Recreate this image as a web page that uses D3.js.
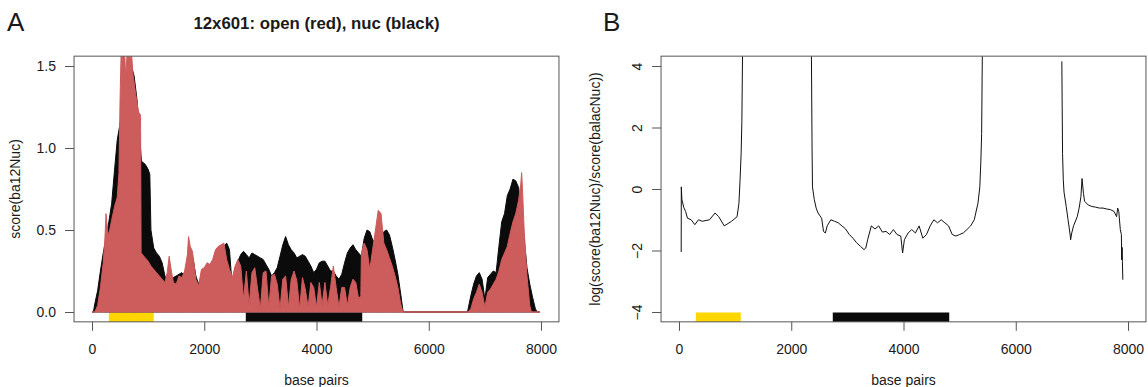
<!doctype html>
<meta charset="utf-8">
<title>12x601 scores</title>
<script src="https://cdn.jsdelivr.net/npm/d3@7"></script>
<style>
body { margin: 0; background: #fff; }
svg text { font-family: "Liberation Sans", Arial, sans-serif; fill: #1a1a1a; }
</style>
<body>
<script>
// values: [base pair, score]
var openScore = [
  [0,0],[50,0],[100,0.04],[150,0.15],[200,0.3],[230,0.45],[250,0.6],[275,0.5],[300,0.47],[350,0.56],
  [400,0.64],[450,0.7],[480,0.85],[500,1.3],[520,1.6],[580,1.6],[600,1.43],[630,1.6],[700,1.6],[730,1.45],
  [770,1.35],[800,1.28],[830,1.22],[865,1.2],[875,0.36],[950,0.33],[1000,0.31],[1050,0.28],[1100,0.26],[1150,0.24],
  [1200,0.22],[1250,0.2],[1300,0.18],[1340,0.24],[1375,0.34],[1400,0.28],[1450,0.18],[1500,0.17],[1550,0.22],[1600,0.21],
  [1650,0.25],[1700,0.35],[1720,0.46],[1750,0.4],[1790,0.37],[1850,0.2],[1900,0.16],[1950,0.26],[2000,0.27],[2050,0.3],
  [2100,0.29],[2150,0.32],[2200,0.38],[2250,0.4],[2300,0.41],[2350,0.42],[2400,0.32],[2450,0.26],[2500,0.21],[2550,0.28],
  [2600,0.32],[2650,0.28],[2700,0.08],[2750,0.25],[2800,0.04],[2850,0.24],[2900,0.27],[2950,0.14],[3000,0.02],[3050,0.24],
  [3100,0.25],[3150,0.03],[3200,0.22],[3250,0.23],[3300,0.17],[3350,0.02],[3400,0.2],[3450,0.22],[3500,0.03],[3550,0.2],
  [3600,0.25],[3650,0.19],[3700,0.02],[3750,0.21],[3800,0.14],[3850,0.03],[3900,0.18],[3950,0.15],[4000,0.03],[4050,0.18],
  [4100,0.04],[4150,0.18],[4200,0.04],[4250,0.15],[4300,0.28],[4350,0.15],[4400,0.03],[4450,0.15],[4500,0.15],[4550,0.04],
  [4600,0.15],[4650,0.2],[4700,0.18],[4750,0.08],[4790,0.1],[4800,0.36],[4850,0.42],[4900,0.38],[4950,0.26],[5000,0.38],
  [5050,0.5],[5100,0.62],[5150,0.6],[5200,0.42],[5250,0.38],[5300,0.33],[5350,0.28],[5400,0.22],[5450,0.15],[5500,0.05],
  [5540,0],[6700,0],[6750,0.02],[6800,0.08],[6850,0.12],[6900,0.17],[6950,0.12],[7000,0.03],[7050,0.12],[7100,0.14],
  [7150,0.17],[7200,0.2],[7250,0.25],[7300,0.32],[7350,0.36],[7400,0.4],[7450,0.48],[7500,0.55],[7550,0.6],[7600,0.68],
  [7640,0.78],[7655,0.85],[7670,0.75],[7700,0.5],[7750,0.22],[7800,0.04],[7830,0],[7975,0]
];
var nucScore = [
  [0,0],[25,0],[50,0.05],[100,0.13],[150,0.25],[200,0.36],[250,0.45],[300,0.55],[350,0.66],[400,0.86],
  [450,1.05],[500,1.15],[550,1.27],[600,1.38],[650,1.46],[700,1.5],[750,1.44],[800,1.3],[850,1.08],[880,0.92],
  [950,0.9],[1000,0.87],[1030,0.84],[1050,0.5],[1100,0.39],[1150,0.36],[1200,0.34],[1250,0.3],[1300,0.22],[1350,0.18],
  [1400,0.19],[1450,0.21],[1500,0.22],[1550,0.23],[1600,0.24],[1650,0.22],[1700,0.25],[1750,0.3],[1800,0.33],[1850,0.22],
  [1900,0.17],[1950,0.22],[2000,0.24],[2050,0.27],[2100,0.26],[2150,0.29],[2200,0.34],[2250,0.37],[2300,0.38],[2350,0.4],
  [2400,0.42],[2450,0.38],[2500,0.14],[2550,0.27],[2600,0.31],[2650,0.35],[2700,0.37],[2750,0.35],[2800,0.33],[2850,0.36],
  [2900,0.35],[2950,0.34],[3000,0.33],[3050,0.32],[3100,0.29],[3150,0.26],[3200,0.22],[3250,0.24],[3300,0.27],[3350,0.34],
  [3400,0.41],[3450,0.46],[3500,0.41],[3550,0.38],[3600,0.36],[3650,0.33],[3700,0.34],[3750,0.35],[3800,0.34],[3850,0.31],
  [3900,0.28],[3950,0.24],[4000,0.26],[4050,0.3],[4100,0.31],[4150,0.31],[4200,0.28],[4250,0.25],[4300,0.25],[4350,0.22],
  [4400,0.2],[4450,0.23],[4500,0.3],[4550,0.36],[4600,0.39],[4650,0.41],[4700,0.38],[4750,0.36],[4800,0.34],[4850,0.45],
  [4900,0.5],[4950,0.49],[5000,0.44],[5050,0.42],[5100,0.45],[5150,0.46],[5200,0.49],[5250,0.5],[5300,0.47],[5350,0.4],
  [5400,0.32],[5450,0.23],[5500,0.11],[5540,0.01],[5560,0],[6690,0],[6750,0.1],[6800,0.17],[6850,0.22],[6900,0.24],
  [6950,0.2],[7000,0.08],[7050,0.21],[7100,0.23],[7150,0.25],[7200,0.24],[7250,0.4],[7300,0.55],[7350,0.6],[7400,0.71],
  [7450,0.75],[7500,0.81],[7550,0.8],[7600,0.76],[7650,0.62],[7700,0.45],[7750,0.27],[7800,0.17],[7850,0.09],[7900,0.02],
  [7930,0],[7975,0]
];
// log(score(ba12Nuc)/score(balacNuc)); NaN = gap where the ratio is undefined
var logRatio = [
  [39,-2.05],[41,0.07],[52,-0.35],[85,-0.6],[118,-0.73],[151,-0.95],[216,-1.0],[282,-1.16],[347,-1.0],[413,-1.05],
  [544,-1.0],[642,-0.78],[708,-0.9],[806,-1.2],[937,-1.05],[1035,-0.9],[1068,-0.46],[1088,0.3],[1107,1.15],[1120,2.2],
  [1133,4.5],[1700,NaN],
  [2359,4.5],[2370,1.5],[2378,0.07],[2411,-0.35],[2444,-0.62],[2477,-0.78],[2542,-0.95],[2575,-1.38],[2608,-1.43],[2640,-1.2],
  [2706,-1.0],[2772,-1.05],[2837,-1.1],[2903,-1.2],[2968,-1.3],[3034,-1.48],[3099,-1.6],[3165,-1.75],[3230,-1.86],[3296,-1.97],
  [3328,-1.92],[3361,-1.65],[3427,-1.2],[3492,-1.3],[3558,-1.2],[3623,-1.4],[3689,-1.38],[3754,-1.48],[3820,-1.32],[3885,-1.48],
  [3951,-1.53],[3984,-2.08],[4016,-1.65],[4082,-1.43],[4147,-1.32],[4213,-1.43],[4278,-1.2],[4344,-1.6],[4410,-1.48],[4475,-1.2],
  [4541,-1.0],[4606,-1.1],[4672,-1.0],[4737,-1.1],[4803,-1.2],[4868,-1.48],[4934,-1.53],[4999,-1.48],[5065,-1.43],[5130,-1.32],
  [5196,-1.2],[5261,-1.0],[5327,-0.46],[5360,0.07],[5379,0.94],[5392,1.8],[5405,4.5],[6000,NaN],
  [6821,4.15],[6834,1.15],[6847,0.3],[6860,-0.1],[6899,-0.57],[6932,-1.0],[6965,-1.43],[6978,-1.65],[6998,-1.43],[7030,-1.2],
  [7096,-0.9],[7129,-0.62],[7161,-0.25],[7181,0.34],[7207,-0.15],[7227,-0.4],[7292,-0.52],[7358,-0.57],[7424,-0.59],[7489,-0.62],
  [7555,-0.62],[7620,-0.65],[7686,-0.67],[7751,-0.73],[7797,-0.9],[7816,-0.62],[7836,-0.73],[7863,-1.32],[7882,-1.48],[7888,-2.3],
  [7895,-1.9],[7900,-2.35],[7908,-2.95]
];
var regionStart = [300, 2740];
var regionEnd = [1100, 4815];
var xTicks = [0, 2000, 4000, 6000, 8000];
var yTicksA = [0, 0.5, 1, 1.5];
var yTicksB = [-4, -2, 0, 2, 4];

var regionColor = ['#ffd700', '#0a0a0a'];
var red = '#cd5c5c', ink = '#0b0b0b', frame = '#555';

var svg = d3.select('body').append('svg')
  .attr('width', 1148)
  .attr('height', 387);

// R style: axis range padded by 4% on each side
function boxOf(x, y) {
  var xd = x.domain(), yd = y.domain(),
      px = (xd[1] - xd[0]) * 0.04, py = (yd[1] - yd[0]) * 0.04;
  return { l: x(xd[0] - px), r: x(xd[1] + px), t: y(yd[1] + py), b: y(yd[0] - py) };
}

function frameAndAxes(x, y, box, yTicks, yFmt, rotateY, id) {
  svg.append('defs').append('clipPath').attr('id', id)
    .append('rect').attr('x', box.l).attr('y', box.t)
    .attr('width', box.r - box.l).attr('height', box.b - box.t);

  var gx = svg.append('g')
    .attr('transform', 'translate(0,' + box.b + ')')
    .call(d3.axisBottom(x).tickValues(xTicks).tickSize(9).tickPadding(13).tickFormat(d3.format('d')));
  var gy = svg.append('g')
    .attr('transform', 'translate(' + box.l + ',0)')
    .call(d3.axisLeft(y).tickValues(yTicks).tickSize(9).tickPadding(9).tickFormat(yFmt));
  [gx, gy].forEach(function(g) {
    g.select('.domain').remove();
    g.attr('font-size', 14).attr('font-family', null);
    g.selectAll('line').attr('stroke', frame);
  });
  if (rotateY) {
    gy.selectAll('text')
      .attr('x', 0).attr('dy', null)
      .attr('text-anchor', 'middle')
      .attr('transform', 'translate(-19,0) rotate(-90)');
  }
  svg.append('rect')
    .attr('x', box.l).attr('y', box.t)
    .attr('width', box.r - box.l).attr('height', box.b - box.t)
    .attr('fill', 'none').attr('stroke', frame);
  svg.append('text')
    .attr('x', (box.l + box.r) / 2).attr('y', 385)
    .attr('text-anchor', 'middle').attr('font-size', 14)
    .text('base pairs');
}

function regions(x, y0, box) {
  regionStart.forEach(function(s, i) {
    svg.append('rect')
      .attr('x', x(s)).attr('y', y0 + 0.5)
      .attr('width', x(regionEnd[i]) - x(s)).attr('height', box.b - y0 - 0.5)
      .attr('fill', regionColor[i]);
  });
}

// ---- panel A ----
var xA = d3.scaleLinear().domain([0, 8000]).range([92, 541]);
var yA = d3.scaleLinear().domain([0, 1.5]).range([312, 66]);
var boxA = boxOf(xA, yA);

var area = d3.area()
  .x(function(d) { return xA(d[0]); })
  .y0(yA(0))
  .y1(function(d) { return yA(d[1]); });

regions(xA, yA(0), boxA);
var plotA = svg.append('g').attr('clip-path', 'url(#clipA)');
plotA.append('path').datum(nucScore).attr('d', area)
  .attr('fill', ink).attr('stroke', ink).attr('stroke-width', 1);
plotA.append('path').datum(openScore).attr('d', area)
  .attr('fill', red).attr('stroke', red).attr('stroke-width', 1);

frameAndAxes(xA, yA, boxA, yTicksA, d3.format('.1f'), false, 'clipA');

svg.append('text')
  .attr('transform', 'translate(20,' + (boxA.t + boxA.b) / 2 + ') rotate(-90)')
  .attr('text-anchor', 'middle').attr('font-size', 14)
  .text('score(ba12Nuc)');
svg.append('text')
  .attr('x', (boxA.l + boxA.r) / 2).attr('y', 29)
  .attr('text-anchor', 'middle').attr('font-size', 16.8).attr('font-weight', 'bold')
  .text('12x601: open (red), nuc (black)');

// ---- panel B ----
var xB = d3.scaleLinear().domain([0, 8000]).range([679, 1128]);
var yB = d3.scaleLinear().domain([-4, 4]).range([312, 66]);
var boxB = boxOf(xB, yB);

regions(xB, yB(-4), boxB);
svg.append('g').attr('clip-path', 'url(#clipB)')
  .append('path').datum(logRatio)
  .attr('d', d3.line()
    .defined(function(d) { return !isNaN(d[1]); })
    .x(function(d) { return xB(d[0]); })
    .y(function(d) { return yB(d[1]); }))
  .attr('fill', 'none').attr('stroke', '#111').attr('stroke-width', 1);

frameAndAxes(xB, yB, boxB, yTicksB, d3.format('d'), true, 'clipB');

svg.append('text')
  .attr('transform', 'translate(600,' + (boxB.t + boxB.b) / 2 + ') rotate(-90)')
  .attr('text-anchor', 'middle').attr('font-size', 14)
  .text('log(score(ba12Nuc)/score(balacNuc))');

// panel letters
svg.append('text').attr('x', 7).attr('y', 31)
  .attr('font-family', '"Liberation Serif", serif').attr('font-size', 26).text('A');
svg.append('text').attr('x', 603).attr('y', 31)
  .attr('font-family', '"Liberation Serif", serif').attr('font-size', 26).text('B');
</script>
</body>
